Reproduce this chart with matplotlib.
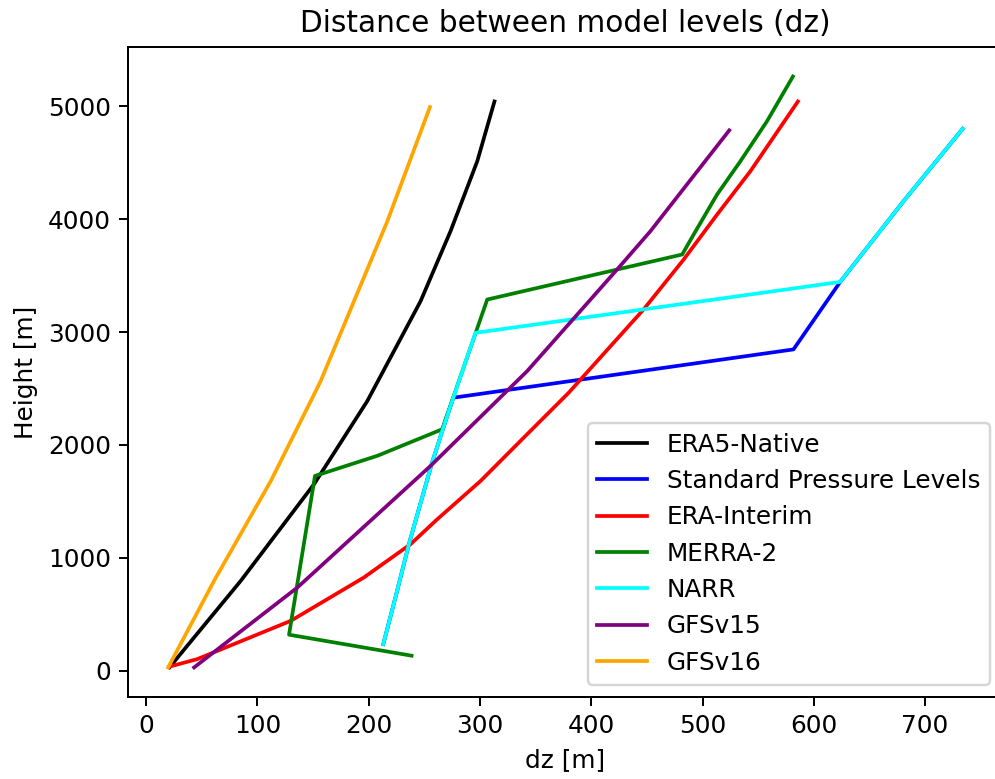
import matplotlib.pyplot as plt

# dz [m] and height [m] for each vertical grid
era5_dz = [21, 85, 150.8, 198.7, 246.6, 273.5, 297.5, 313]
era5_z = [30, 796, 1652, 2389, 3274, 3894, 4513, 5044]

plev_dz = [213.1, 224.8, 236.1, 256.5, 266.1, 276, 581.7, 623.7, 680.5, 733.8]
plev_z = [236, 679, 1121, 1829, 2124, 2419, 2847, 3445, 4159, 4802]

erai_dz = [20.6, 46, 130, 195.7, 237.6, 261.6, 300.5, 339.3, 379.7, 447, 483, 513, 542.9, 585.7]
erai_z = [35, 103, 442, 826, 1121, 1342, 1681, 2065, 2463, 3201, 3643, 4041, 4425, 5044]

merra_dz = [238.5, 128.4, 151.7, 208, 266, 306.5, 481.7, 492, 513, 533.9, 557.8, 581.2]
merra_z = [133, 319, 1726, 1905, 2139, 3289, 3688, 3865, 4219, 4513, 4867, 5265]

narr_dz = [213.1, 224.8, 236.1, 256.5, 266.1, 276, 296, 623.7, 680.5, 733.8]
narr_z = [236, 679, 1121, 1829, 2124, 2419, 2994, 3445, 4159, 4802]

gfs15_dz = [43.1, 135.9, 255.5, 342.4, 423.2, 453.1, 524]
gfs15_z = [29, 737, 1814, 2655, 3555, 3894, 4788]

gfs16_dz = [19.8, 61, 112, 147.9, 156.8, 216.7, 255]
gfs16_z = [29, 796, 1681, 2389, 2566, 3982, 4994]


def main():
    dpi = 178
    fig = plt.figure(figsize=(995 / dpi, 779 / dpi), dpi=dpi)
    ax = fig.add_axes([0.1291, 0.1053, 0.8784, 0.8344])

    ax.plot(era5_dz, era5_z, color="black", label="ERA5-Native")
    ax.plot(plev_dz, plev_z, color="blue", label="Standard Pressure Levels")
    ax.plot(erai_dz, erai_z, color="red", label="ERA-Interim")
    ax.plot(merra_dz, merra_z, color="green", label="MERRA-2")
    ax.plot(narr_dz, narr_z, color="cyan", label="NARR")
    ax.plot(gfs15_dz, gfs15_z, color="purple", label="GFSv15")
    ax.plot(gfs16_dz, gfs16_z, color="orange", label="GFSv16")

    ax.set_xlabel("dz [m]")
    ax.set_ylabel("Height [m]")
    ax.set_title("Distance between model levels (dz)")
    ax.legend(loc="lower right")

    fig.savefig("out.png", dpi=dpi)
    plt.close(fig)


if __name__ == "__main__":
    main()
